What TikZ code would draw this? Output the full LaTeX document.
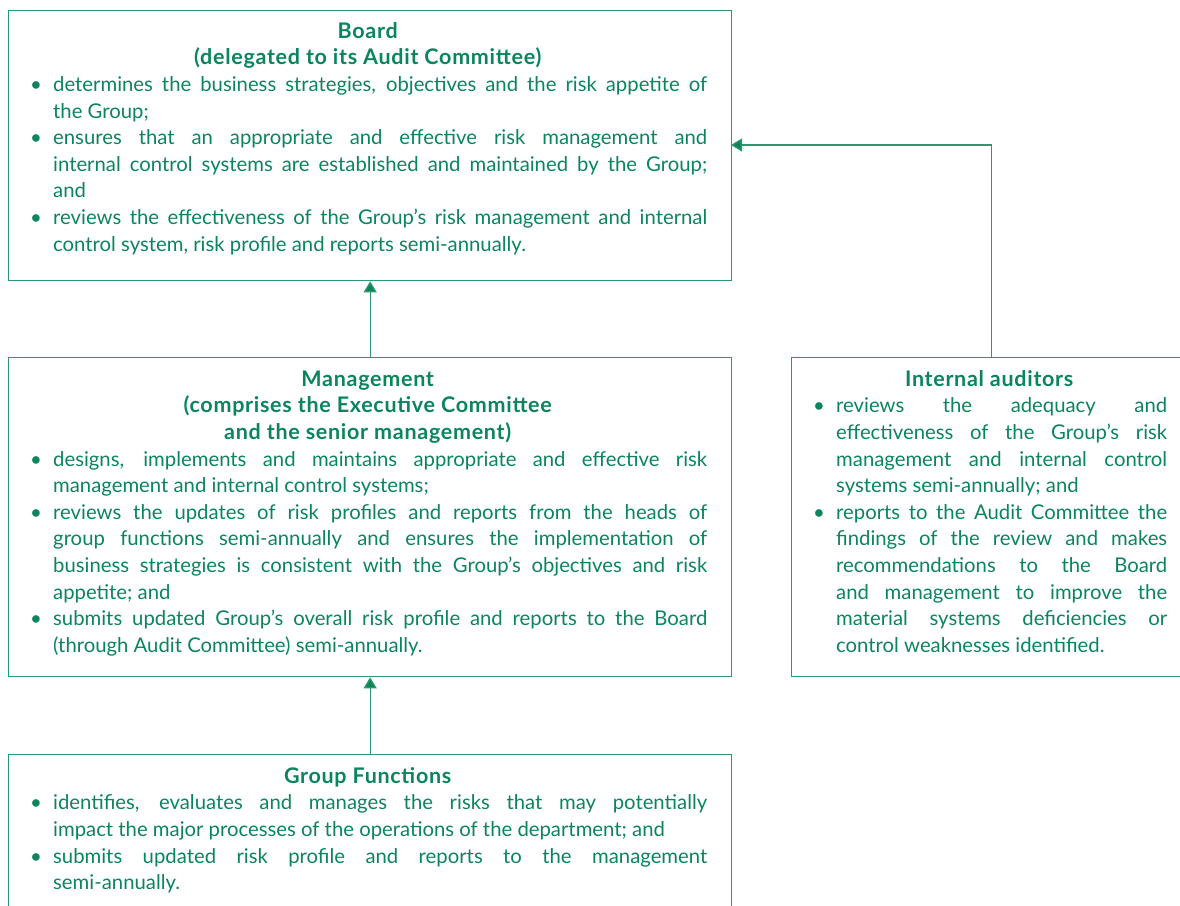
\documentclass[tikz,border=0pt]{standalone}
\usepackage{fontspec}
\setmainfont{Lato}
\usetikzlibrary{arrows.meta}
\definecolor{grn}{RGB}{10,134,90}
\definecolor{lgrn}{RGB}{45,152,110}
\tolerance=10000
\hyphenpenalty=10000
\hbadness=10000
\newcommand{\bitem}[1]{\par\noindent\hangindent=25pt\hangafter=1\makebox[25pt][l]{\hspace{2pt}\textbullet}#1\par}
\newcommand{\ttl}[1]{{\centering\bfseries\fontsize{21.5pt}{26.6pt}\selectfont\addfontfeature{LetterSpace=3.3}#1\par}}
\tikzset{
  box/.style={draw=lgrn, line width=1.3pt, rectangle, inner sep=0pt, anchor=north west},
  txt/.style={anchor=north west, inner sep=0pt, text=grn, align=justify,
    font=\fontsize{20.3pt}{26.6pt}\selectfont},
  arr/.style={draw=lgrn, line width=1.3pt, -{Triangle[width=13pt,length=11pt,fill=grn]}}
}
\begin{document}
\begin{tikzpicture}[x=1pt,y=1pt]
\useasboundingbox (0,0) rectangle (1180,-905);
\node[box, minimum width=723pt, minimum height=270pt] (board) at (8,-10) {};
\node[box, minimum width=723pt, minimum height=319pt] (mgmt) at (8,-357) {};
\node[box, minimum width=400pt, minimum height=319pt] (ia) at (791,-357) {};
\node[box, minimum width=723pt, minimum height=170pt] (grp) at (8,-754) {};
\coordinate (iaj) at (731,-145);

\node[txt, text width=679pt] (boardt) at (28,-19.4) {\strut\ttl{Board\\(delegated to its Audit Committee)}%
\bitem{determines the business strategies, objectives and the risk appetite of\linebreak the Group;}%
\bitem{ensures that an appropriate and effective risk management and\linebreak internal control systems are established and maintained by the Group;\linebreak and}%
\bitem{reviews the effectiveness of the Group’s risk management and internal\linebreak control system, risk profile and reports semi-annually.}};

\node[txt, text width=679pt] (mgmtt) at (28,-367.4) {\strut\ttl{Management\\(comprises the Executive Committee\\and the senior management)}%
\bitem{designs, implements and maintains appropriate and effective risk\linebreak management and internal control systems;}%
\bitem{reviews the updates of risk profiles and reports from the heads of\linebreak group functions semi-annually and ensures the implementation of\linebreak business strategies is consistent with the Group’s objectives and risk\linebreak appetite; and}%
\bitem{submits updated Group’s overall risk profile and reports to the Board\linebreak (through Audit Committee) semi-annually.}};

\node[txt, text width=356pt] (iat) at (811,-367.4) {\strut\ttl{Internal auditors}%
\bitem{reviews the adequacy and\linebreak effectiveness of the Group’s risk\linebreak management and internal control\linebreak systems semi-annually; and}%
\bitem{reports to the Audit Committee the\linebreak findings of the review and makes\linebreak recommendations to the Board\linebreak and management to improve the\linebreak material systems deficiencies or\linebreak control weaknesses identified.}};

\node[txt, text width=679pt] (grpt) at (28,-764.4) {\strut\ttl{Group Functions}%
\bitem{identifies, evaluates and manages the risks that may potentially\linebreak impact the major processes of the operations of the department; and}%
\bitem{submits updated risk profile and reports to the management\linebreak semi-annually.}};

\draw[arr] (mgmt.north) -- (board.south);
\draw[arr] (grp.north) -- (mgmt.south);
\draw[arr] (ia.north) |- (iaj);
\end{tikzpicture}
\end{document}
